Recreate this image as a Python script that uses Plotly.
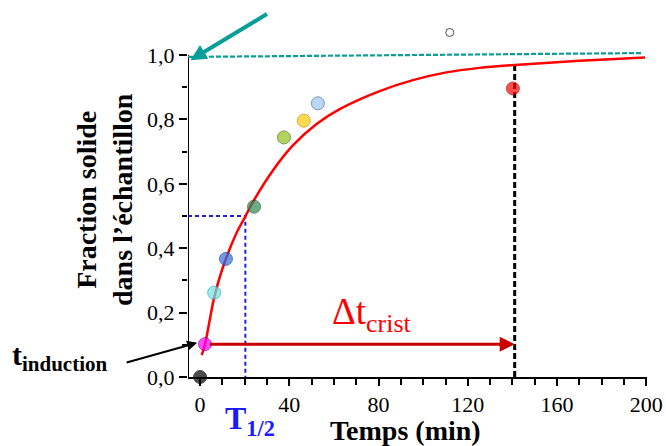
import plotly.graph_objects as go

# ---- data ----
pt_time = [0, 2.2, 6.3, 11.6, 24.2, 37.6, 46.5, 52.8, 140.2, 111.9]
pt_frac = [0.0, 0.102, 0.262, 0.367, 0.529, 0.744, 0.796, 0.850, 0.896, 1.07]
pt_fill = ["#000000", "#ff00ff", "#6ee4ea", "#2f6fe0", "#2e8b57", "#8fc21a",
           "#ffcc00", "#9cc8f2", "#ff0000", "#ffffff"]
pt_edge = ["#000000", "#990099", "#2aa8b0", "#1a3f99", "#1f4f30", "#4f6b10",
           "#c08a00", "#4a6a8a", "#990000", "#000000"]
pt_size = [13, 13, 13, 13, 13, 13, 13, 13, 13, 8]

fit_time = [0.76, 2.24, 6.27, 10.2, 16.4, 20.4, 23.4, 32.8, 41.7, 52.2, 62.6,
            80.5, 95.4, 110.4, 125.3, 141, 170, 199.4]
fit_frac = [0.068, 0.102, 0.245, 0.340, 0.448, 0.500, 0.540, 0.643, 0.72, 0.786,
            0.832, 0.888, 0.922, 0.946, 0.960, 0.969, 0.982, 0.992]

t_half = 20.3
t_end = 141
t_ind = 2.2
f_ind = 0.102
f_end_curve = 0.969

x_ticks = [0, 40, 80, 120, 160, 200]
x_ticklabels = ["0", "40", "80", "120", "160", "200"]
y_ticks = [0, 0.2, 0.4, 0.6, 0.8, 1.0]
y_ticklabels = ["0,0", "0,2", "0,4", "0,6", "0,8", "1,0"]

X_MIN, X_MAX = -5.4, 200.3

SERIF = "Liberation Serif"
TEAL = "#0a9e98"

# plot area in pixels (y = 1.0 sits at pixel 55, y = 0 at pixel 377)
L, R, T, B = 188, 647, 0, 377
Y_MAX = (B - T) / (B - 55)


def pxx(p):
    return (p - L) / (R - L)


def pxy(p):
    return (B - p) / (B - T)


fig = go.Figure()

# y axis line (only up to 1.0)
fig.add_trace(go.Scatter(x=[X_MIN, X_MIN], y=[0, 1.0], mode="lines",
                         line=dict(color="#000000", width=2), cliponaxis=False,
                         hoverinfo="skip", showlegend=False))
# teal dashed line near 1.0
fig.add_trace(go.Scatter(x=[X_MIN, 198], y=[0.994, 1.006], mode="lines",
                         line=dict(color=TEAL, width=2.2, dash="5px,2px"),
                         hoverinfo="skip", showlegend=False, cliponaxis=False))
# blue dashed T1/2 guides
fig.add_trace(go.Scatter(x=[X_MIN, t_half, t_half], y=[0.5, 0.5, -0.015], mode="lines",
                         line=dict(color="#2020e0", width=2, dash="4px,3px"),
                         hoverinfo="skip", showlegend=False, cliponaxis=False))
# black dashed end line
fig.add_trace(go.Scatter(x=[t_end, t_end], y=[0.0, f_end_curve], mode="lines",
                         line=dict(color="#000000", width=3, dash="6px,3px"),
                         hoverinfo="skip", showlegend=False))
# fitted curve
fig.add_trace(go.Scatter(x=fit_time, y=fit_frac, mode="lines",
                         line=dict(color="#ff0000", width=2.5, shape="spline",
                                   smoothing=0.8),
                         showlegend=False))
# points
fig.add_trace(go.Scatter(x=pt_time, y=pt_frac, mode="markers",
                         marker=dict(size=pt_size, color=pt_fill,
                                     line=dict(color=pt_edge, width=1)),
                         cliponaxis=False, showlegend=False))

ann = []
# delta t arrow
ann.append(dict(x=t_end, y=f_ind, xref="x", yref="y", ax=t_ind + 1.5, ay=f_ind,
                axref="x", ayref="y", showarrow=True, arrowhead=2, arrowsize=1.0,
                arrowwidth=3, arrowcolor="#cc0000", text=""))
# t induction arrow
ann.append(dict(x=-1.3, y=0.106, xref="x", yref="y", ax=-72, ay=20,
                showarrow=True, arrowhead=2, arrowsize=1.0, arrowwidth=2,
                arrowcolor="#000000", text=""))
# teal arrow
ann.append(dict(x=-4.3, y=0.984, xref="x", yref="y", ax=78, ay=-47,
                showarrow=True, arrowhead=2, arrowsize=0.8, arrowwidth=4,
                arrowcolor=TEAL, text=""))
# labels
ann.append(dict(x=pxx(104), y=pxy(200), xref="paper", yref="paper",
                xanchor="center", yanchor="middle", showarrow=False,
                text="<b>Fraction solide<br>dans l’échantillon</b>", textangle=-90,
                font=dict(family=SERIF, size=28, color="#000000")))
ann.append(dict(x=pxx(405), y=pxy(430), xref="paper", yref="paper",
                xanchor="center", yanchor="middle", showarrow=False,
                text="<b>Temps (min)</b>",
                font=dict(family=SERIF, size=28, color="#000000")))
ann.append(dict(x=pxx(250), y=pxy(420), xref="paper", yref="paper",
                xanchor="center", yanchor="middle", showarrow=False,
                text="<b>T<sub>1/2</sub></b>",
                font=dict(family=SERIF, size=32, color="#1a1aff")))
ann.append(dict(x=pxx(371), y=pxy(314), xref="paper", yref="paper",
                xanchor="center", yanchor="middle", showarrow=False,
                text="Δt<sub>crist</sub>",
                font=dict(family=SERIF, size=37, color="#ff0000")))
ann.append(dict(x=pxx(60), y=pxy(357), xref="paper", yref="paper",
                xanchor="center", yanchor="middle", showarrow=False,
                text="<b>t<sub>induction</sub></b>",
                font=dict(family=SERIF, size=30, color="#000000")))
# clipped teal text at very top (only its lower edge shows, as in the original)
ann.append(dict(x=pxx(333), y=pxy(2), xref="paper", yref="paper",
                xanchor="center", yanchor="bottom", showarrow=False,
                text="Fraction solide = nombre de cristaux solides, nombre total de cristaux",
                font=dict(family="Open Sans", size=26, color=TEAL)))

fig.update_layout(
    width=666, height=446, autosize=False,
    margin=dict(l=L, r=666 - R, t=T, b=446 - B),
    paper_bgcolor="#ffffff", plot_bgcolor="#ffffff",
    showlegend=False, annotations=ann,
    xaxis=dict(range=[X_MIN, X_MAX], tickvals=x_ticks, ticktext=x_ticklabels,
               showgrid=False, zeroline=False, showline=True, linecolor="#000000",
               linewidth=2, ticks="outside", ticklen=7, tickwidth=2,
               tickcolor="#000000",
               tickfont=dict(family=SERIF, size=22, color="#000000"),
               minor=dict(dtick=10, tick0=0, ticks="outside", ticklen=6,
                          tickwidth=2, tickcolor="#000000", showgrid=False)),
    yaxis=dict(range=[0, Y_MAX], tickvals=y_ticks, ticktext=y_ticklabels,
               showgrid=False, zeroline=False, showline=False,
               ticks="outside", ticklen=8, tickwidth=2,
               tickcolor="#000000",
               tickfont=dict(family=SERIF, size=22, color="#000000"),
               minor=dict(tickvals=[0.1, 0.3, 0.5, 0.7, 0.9], ticks="outside",
                          ticklen=5, tickwidth=2, tickcolor="#000000",
                          showgrid=False)),
)

fig.write_html("out.html",
               config={"displayModeBar": False},
               post_script="document.body.style.margin='0';"
                           "document.body.style.overflow='hidden';")
